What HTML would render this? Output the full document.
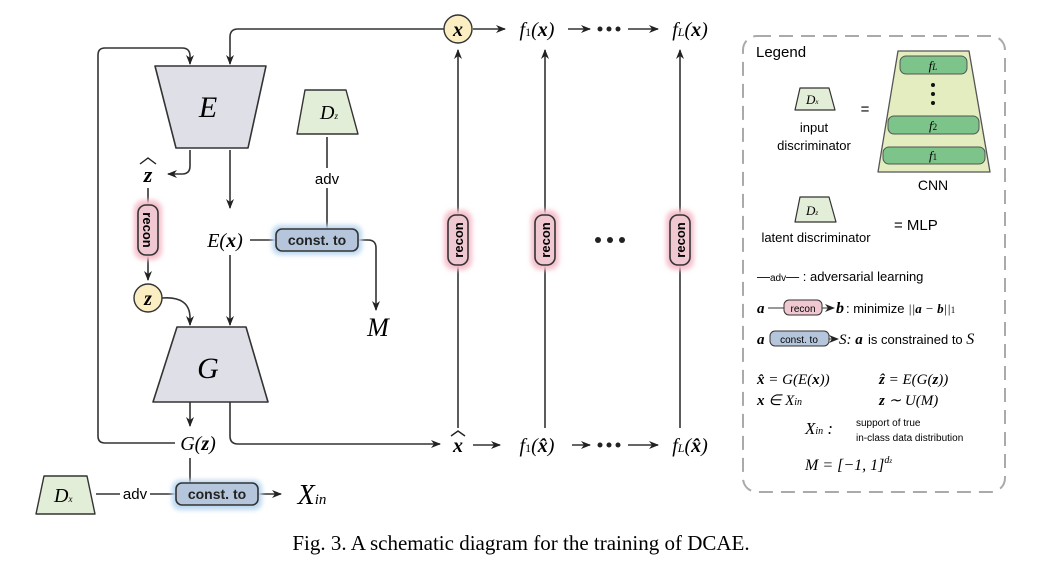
<!DOCTYPE html>
<html><head><meta charset="utf-8"><style>
body{margin:0;background:#fff;}
svg{display:block}
.m{font-family:"Liberation Serif",serif;font-style:italic;}
.s{font-family:"Liberation Sans",sans-serif;}
</style></head><body>
<svg width="1042" height="568" viewBox="0 0 1042 568" xmlns="http://www.w3.org/2000/svg">
<defs>
<marker id="a" markerWidth="10" markerHeight="8" refX="9" refY="4" orient="auto" markerUnits="userSpaceOnUse"><path d="M0,0 L10,4 L0,8 L3,4 Z" fill="#222"/></marker>
<filter id="g" x="-30%" y="-30%" width="160%" height="160%"><feGaussianBlur stdDeviation="2.5"/></filter>
</defs>
<g stroke="#333" stroke-width="1.6" fill="none">
<path d="M175,443 H105 Q98,443 98,436 V55 Q98,48 105,48 H182 Q190,48 190,56 V64" marker-end="url(#a)"/>
<path d="M444,29 H238 Q230,29 230,37 V64" marker-end="url(#a)"/>
<path d="M190,150 V166 Q190,174 182,174 H168" marker-end="url(#a)"/>
<path d="M230,150 V208" marker-end="url(#a)"/>
<path d="M148,188 V205"/><path d="M148,256 V280" marker-end="url(#a)"/>
<path d="M162,298 Q190,296 190,318 V325" marker-end="url(#a)"/>
<path d="M230,255 V325" marker-end="url(#a)"/>
<path d="M250,240 H276"/>
<path d="M327,137 V168"/><path d="M327,188 V229"/>
<path d="M358,240 H368 Q376,240 376,248 V310" marker-end="url(#a)"/>
<path d="M190,402 V426" marker-end="url(#a)"/>
<path d="M230,402 V436 Q230,444 238,444 H440" marker-end="url(#a)"/>
<path d="M190,458 V483"/>
<path d="M96,494 H120"/><path d="M150,494 H176"/>
<path d="M258,494 H281" marker-end="url(#a)"/>
<path d="M458,428 V50" marker-end="url(#a)"/>
<path d="M545,428 V50" marker-end="url(#a)"/>
<path d="M680,428 V50" marker-end="url(#a)"/>
<path d="M473,29 H505" marker-end="url(#a)"/>
<path d="M568,29 H590" marker-end="url(#a)"/>
<path d="M628,29 H658" marker-end="url(#a)"/>
<path d="M473,445 H500" marker-end="url(#a)"/>
<path d="M572,445 H590" marker-end="url(#a)"/>
<path d="M628,445 H658" marker-end="url(#a)"/>
</g>
<path d="M155,66 H266 L248,148 H176 Z" fill="#dfdfe8" stroke="#333" stroke-width="1.6" stroke-linejoin="round"/>
<text x="208" y="117" class="m" font-size="30" text-anchor="middle">E</text>
<path d="M177,327 H246 L268,402 H153 Z" fill="#dfdfe8" stroke="#333" stroke-width="1.6" stroke-linejoin="round"/>
<text x="208" y="378" class="m" font-size="30" text-anchor="middle">G</text>
<path d="M305,90 H346 L358,134 H297 Z" fill="#e2eed8" stroke="#333" stroke-width="1.4" stroke-linejoin="round"/>
<text x="320" y="119" class="m" font-size="20">D<tspan font-size="9">z</tspan></text>
<text x="327" y="184" class="s" font-size="15" text-anchor="middle">adv</text>
<path d="M44,476 H87 L95,514 H36 Z" fill="#e2eed8" stroke="#333" stroke-width="1.4" stroke-linejoin="round"/>
<text x="54" y="502" class="m" font-size="20">D<tspan font-size="9">x</tspan></text>
<text x="135" y="499" class="s" font-size="15" text-anchor="middle">adv</text>
<rect x="272" y="225" width="90" height="30" rx="8" fill="#bcd8f0" filter="url(#g)"/>
<rect x="276" y="229" width="82" height="22" rx="6" fill="#b5c6dc" stroke="#333" stroke-width="1.6"/>
<text x="317" y="245" class="s" font-size="14" font-weight="bold" text-anchor="middle" fill="#222">const. to</text>
<rect x="172" y="480" width="90" height="30" rx="8" fill="#bcd8f0" filter="url(#g)"/>
<rect x="176" y="483" width="82" height="22" rx="6" fill="#b5c6dc" stroke="#333" stroke-width="1.6"/>
<text x="217" y="499" class="s" font-size="14" font-weight="bold" text-anchor="middle" fill="#222">const. to</text>
<g>
<rect x="134" y="200" width="28" height="60" rx="10" fill="#f6c0cc" filter="url(#g)"/>
<rect x="138" y="205" width="20" height="50" rx="8" fill="#f0c8d2" stroke="#333" stroke-width="1.6"/>
<text transform="translate(143,230) rotate(90)" class="s" font-size="13" font-weight="bold" text-anchor="middle">recon</text>
<rect x="444" y="210" width="28" height="60" rx="10" fill="#f6c0cc" filter="url(#g)"/>
<rect x="448" y="215" width="20" height="50" rx="8" fill="#f0c8d2" stroke="#333" stroke-width="1.6"/>
<text transform="translate(463,240) rotate(-90)" class="s" font-size="13" font-weight="bold" text-anchor="middle">recon</text>
<rect x="531" y="210" width="28" height="60" rx="10" fill="#f6c0cc" filter="url(#g)"/>
<rect x="535" y="215" width="20" height="50" rx="8" fill="#f0c8d2" stroke="#333" stroke-width="1.6"/>
<text transform="translate(550,240) rotate(-90)" class="s" font-size="13" font-weight="bold" text-anchor="middle">recon</text>
<rect x="666" y="210" width="28" height="60" rx="10" fill="#f6c0cc" filter="url(#g)"/>
<rect x="670" y="215" width="20" height="50" rx="8" fill="#f0c8d2" stroke="#333" stroke-width="1.6"/>
<text transform="translate(685,240) rotate(-90)" class="s" font-size="13" font-weight="bold" text-anchor="middle">recon</text>
</g>
<g fill="#222"><circle cx="598" cy="240" r="3"/><circle cx="610" cy="240" r="3"/><circle cx="622" cy="240" r="3"/>
<circle cx="600" cy="445" r="2.5"/><circle cx="609" cy="445" r="2.5"/><circle cx="618" cy="445" r="2.5"/>
<circle cx="600" cy="29" r="2.5"/><circle cx="609" cy="29" r="2.5"/><circle cx="618" cy="29" r="2.5"/></g>
<circle cx="458" cy="29" r="14" fill="#fbeec2" stroke="#333" stroke-width="1.4"/>
<text x="458" y="36" class="m" font-size="20" font-weight="bold" text-anchor="middle">x</text>
<circle cx="148" cy="298" r="14" fill="#fbeec2" stroke="#333" stroke-width="1.4"/>
<text x="148" y="305" class="m" font-size="20" font-weight="bold" text-anchor="middle">z</text>
<text x="148" y="182" class="m" font-size="22" font-weight="bold" text-anchor="middle">z</text>
<path d="M140,164 L148,158 L156,164" fill="none" stroke="#222" stroke-width="1.4"/>
<text x="225" y="247" class="m" font-size="20" text-anchor="middle">E(<tspan font-weight="bold">x</tspan>)</text>
<text x="378" y="336" class="m" font-size="26" text-anchor="middle">M</text>
<text x="198" y="450" class="m" font-size="20" text-anchor="middle">G(<tspan font-weight="bold">z</tspan>)</text>
<text x="312" y="504" class="m" font-size="28" text-anchor="middle">X<tspan font-size="15">in</tspan></text>
<text x="537" y="36" class="m" font-size="20" text-anchor="middle">f<tspan font-size="12" font-style="normal">1</tspan>(<tspan font-weight="bold">x</tspan>)</text>
<text x="690" y="36" class="m" font-size="20" text-anchor="middle">f<tspan font-size="12">L</tspan>(<tspan font-weight="bold">x</tspan>)</text>
<text x="458" y="452" class="m" font-size="20" font-weight="bold" text-anchor="middle">x</text>
<path d="M451,436 L458,431 L465,436" fill="none" stroke="#222" stroke-width="1.4"/>
<text x="537" y="452" class="m" font-size="20" text-anchor="middle">f<tspan font-size="12" font-style="normal">1</tspan>(<tspan font-weight="bold">x̂</tspan>)</text>
<text x="690" y="452" class="m" font-size="20" text-anchor="middle">f<tspan font-size="12">L</tspan>(<tspan font-weight="bold">x̂</tspan>)</text>
<rect x="743" y="36" width="262" height="456" rx="14" fill="none" stroke="#aaa" stroke-width="2" stroke-dasharray="14,8"/>
<text x="756" y="57" class="s" font-size="15">Legend</text>
<path d="M800,88 H829 L835,110 H795 Z" fill="#e2eed8" stroke="#333" stroke-width="1.2" stroke-linejoin="round"/>
<text x="806" y="104" class="m" font-size="13">D<tspan font-size="7">x</tspan></text>
<text x="814" y="132" class="s" font-size="13" text-anchor="middle">input</text>
<text x="814" y="150" class="s" font-size="13" text-anchor="middle">discriminator</text>
<text x="865" y="114" class="s" font-size="15" text-anchor="middle">=</text>
<path d="M898,51 H969 L990,172 H878 Z" fill="#e4edc0" stroke="#555" stroke-width="1.3" stroke-linejoin="round"/>
<rect x="900" y="56" width="67" height="18" rx="6" fill="#7cc48a" stroke="#555"/>
<text x="933" y="70" class="m" font-size="13" text-anchor="middle">f<tspan font-size="9">L</tspan></text>
<circle cx="933" cy="85" r="2" fill="#111"/><circle cx="933" cy="94" r="2" fill="#111"/><circle cx="933" cy="103" r="2" fill="#111"/>
<rect x="888" y="116" width="91" height="18" rx="6" fill="#7cc48a" stroke="#555"/>
<text x="933" y="130" class="m" font-size="13" text-anchor="middle">f<tspan font-size="9" font-style="normal">2</tspan></text>
<rect x="883" y="147" width="102" height="17" rx="6" fill="#7cc48a" stroke="#555"/>
<text x="933" y="160" class="m" font-size="13" text-anchor="middle">f<tspan font-size="9" font-style="normal">1</tspan></text>
<text x="933" y="190" class="s" font-size="14" text-anchor="middle">CNN</text>
<path d="M800,197 H829 L836,222 H795 Z" fill="#e2eed8" stroke="#333" stroke-width="1.2" stroke-linejoin="round"/>
<text x="806" y="215" class="m" font-size="13">D<tspan font-size="7">z</tspan></text>
<text x="816" y="242" class="s" font-size="13" text-anchor="middle">latent discriminator</text>
<text x="894" y="230" class="s" font-size="15">=  MLP</text>
<text x="757" y="281" class="s" font-size="13">—<tspan font-size="10">adv</tspan>— :  adversarial learning</text>
<text x="757" y="313" class="m" font-size="15" font-weight="bold">a</text>
<path d="M768,308 H784" stroke="#333"/>
<rect x="784" y="300" width="38" height="15" rx="5" fill="#f0c8d2" stroke="#333"/>
<text x="803" y="312" class="s" font-size="10" text-anchor="middle">recon</text>
<path d="M822,308 H834" stroke="#333" marker-end="url(#a)"/>
<text x="836" y="313" class="m" font-size="16" font-weight="bold">b</text>
<text x="846" y="313" class="s" font-size="13">: minimize <tspan class="m">||<tspan font-weight="bold">a</tspan> − <tspan font-weight="bold">b</tspan>||<tspan font-size="9" font-style="normal">1</tspan></tspan></text>
<text x="757" y="344" class="m" font-size="15" font-weight="bold">a</text>
<rect x="770" y="331" width="59" height="15" rx="5" fill="#b5c6dc" stroke="#333"/>
<text x="799" y="343" class="s" font-size="10" text-anchor="middle">const. to</text>
<path d="M829,339 H838" stroke="#333" marker-end="url(#a)"/>
<text x="839" y="344" class="m" font-size="15">S: <tspan font-weight="bold">a</tspan></text>
<text x="868" y="344" class="s" font-size="13">is constrained to <tspan class="m" font-size="16">S</tspan></text>
<text x="757" y="384" class="m" font-size="15"><tspan font-weight="bold">x̂</tspan> = G(E(<tspan font-weight="bold">x</tspan>))</text>
<text x="879" y="384" class="m" font-size="15"><tspan font-weight="bold">ẑ</tspan> = E(G(<tspan font-weight="bold">z</tspan>))</text>
<text x="757" y="405" class="m" font-size="15"><tspan font-weight="bold">x</tspan> ∈ X<tspan font-size="10">in</tspan></text>
<text x="879" y="405" class="m" font-size="15"><tspan font-weight="bold">z</tspan> ∼ U(M)</text>
<text x="805" y="434" class="m" font-size="17">X<tspan font-size="10">in</tspan> :</text>
<text x="856" y="426" class="s" font-size="10">support of true</text>
<text x="856" y="441" class="s" font-size="10">in-class data distribution</text>
<text x="805" y="470" class="m" font-size="16">M = [−1, 1]<tspan font-size="10" dy="-7">d</tspan><tspan font-size="7">z</tspan></text>
<text x="521" y="550" font-family="Liberation Serif,serif" font-size="21" text-anchor="middle">Fig. 3.  A schematic diagram for the training of DCAE.</text>
</svg>
</body></html>
